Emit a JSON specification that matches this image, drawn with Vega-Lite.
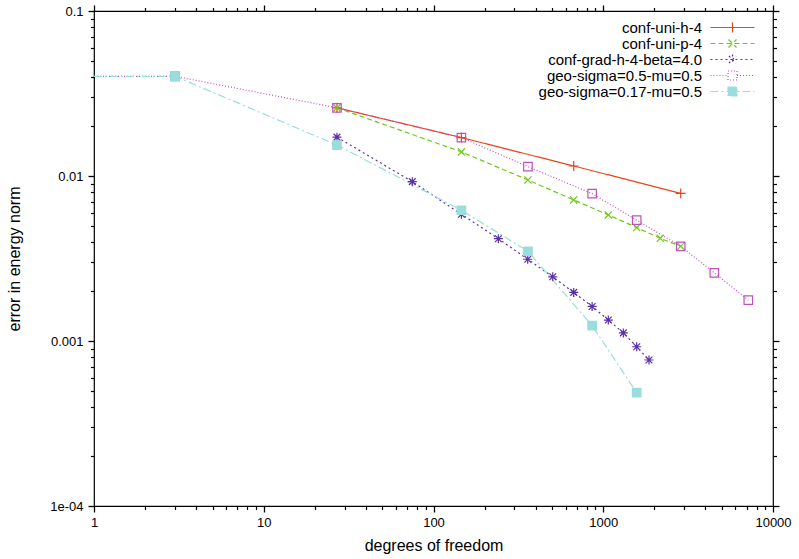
{
  "$schema": "https://vega.github.io/schema/vega-lite/v6.json",
  "width": 679,
  "height": 495,
  "autosize": "none",
  "padding": {"left": 94, "top": 11, "right": 26, "bottom": 53},
  "background": "white",
  "config": {
    "view": {"stroke": "black", "strokeWidth": 1.2},
    "font": "Liberation Sans",
    "legend": {"rowPadding": 0},
    "axis": {
      "domain": false,
      "labelColor": "black", "titleColor": "black", "grid": false,
      "labelFontSize": 13, "titleFontSize": 16, "titleFontWeight": "normal",
      "labelFont": "Liberation Sans", "titleFont": "Liberation Sans", "labelFlush": false
    }
  },
  "data": {"values": [
    {"series": "conf-uni-h-4", "dof": 27, "err": 0.0259},
    {"series": "conf-uni-h-4", "dof": 146, "err": 0.0171},
    {"series": "conf-uni-h-4", "dof": 670, "err": 0.0115},
    {"series": "conf-uni-h-4", "dof": 2860, "err": 0.00785},
    {"series": "conf-uni-p-4", "dof": 27, "err": 0.0259},
    {"series": "conf-uni-p-4", "dof": 146, "err": 0.0140},
    {"series": "conf-uni-p-4", "dof": 360, "err": 0.00946},
    {"series": "conf-uni-p-4", "dof": 670, "err": 0.00716},
    {"series": "conf-uni-p-4", "dof": 1071, "err": 0.00581},
    {"series": "conf-uni-p-4", "dof": 1574, "err": 0.00487},
    {"series": "conf-uni-p-4", "dof": 2168, "err": 0.00419},
    {"series": "conf-uni-p-4", "dof": 2860, "err": 0.00375},
    {"series": "conf-grad-h-4-beta=4.0", "dof": 27, "err": 0.0172},
    {"series": "conf-grad-h-4-beta=4.0", "dof": 75, "err": 0.00924},
    {"series": "conf-grad-h-4-beta=4.0", "dof": 146, "err": 0.00586},
    {"series": "conf-grad-h-4-beta=4.0", "dof": 241, "err": 0.00417},
    {"series": "conf-grad-h-4-beta=4.0", "dof": 359, "err": 0.00313},
    {"series": "conf-grad-h-4-beta=4.0", "dof": 504, "err": 0.00245},
    {"series": "conf-grad-h-4-beta=4.0", "dof": 670, "err": 0.00197},
    {"series": "conf-grad-h-4-beta=4.0", "dof": 860, "err": 0.00162},
    {"series": "conf-grad-h-4-beta=4.0", "dof": 1071, "err": 0.00134},
    {"series": "conf-grad-h-4-beta=4.0", "dof": 1313, "err": 0.00112},
    {"series": "conf-grad-h-4-beta=4.0", "dof": 1574, "err": 0.000923},
    {"series": "conf-grad-h-4-beta=4.0", "dof": 1860, "err": 0.000767},
    {"series": "geo-sigma=0.5-mu=0.5", "dof": 1, "err": 0.0402},
    {"series": "geo-sigma=0.5-mu=0.5", "dof": 3, "err": 0.0402},
    {"series": "geo-sigma=0.5-mu=0.5", "dof": 27, "err": 0.0259},
    {"series": "geo-sigma=0.5-mu=0.5", "dof": 146, "err": 0.0171},
    {"series": "geo-sigma=0.5-mu=0.5", "dof": 360, "err": 0.0114},
    {"series": "geo-sigma=0.5-mu=0.5", "dof": 860, "err": 0.00782},
    {"series": "geo-sigma=0.5-mu=0.5", "dof": 1574, "err": 0.0054},
    {"series": "geo-sigma=0.5-mu=0.5", "dof": 2860, "err": 0.00375},
    {"series": "geo-sigma=0.5-mu=0.5", "dof": 4511, "err": 0.00259},
    {"series": "geo-sigma=0.5-mu=0.5", "dof": 7153, "err": 0.00177},
    {"series": "geo-sigma=0.17-mu=0.5", "dof": 1, "err": 0.0402},
    {"series": "geo-sigma=0.17-mu=0.5", "dof": 3, "err": 0.0402},
    {"series": "geo-sigma=0.17-mu=0.5", "dof": 27, "err": 0.0154},
    {"series": "geo-sigma=0.17-mu=0.5", "dof": 146, "err": 0.0062},
    {"series": "geo-sigma=0.17-mu=0.5", "dof": 360, "err": 0.0035},
    {"series": "geo-sigma=0.17-mu=0.5", "dof": 860, "err": 0.00124},
    {"series": "geo-sigma=0.17-mu=0.5", "dof": 1574, "err": 0.000486}
  ]},
  "resolve": {"scale": {"x": "independent", "y": "independent"}, "axis": {"x": "independent", "y": "independent"}},
  "layer": [
    {
      "mark": {"type": "line", "strokeWidth": 1.2, "clip": true},
      "encoding": {
        "x": {"field": "dof", "type": "quantitative",
          "scale": {"type": "log", "domain": [1, 10000], "nice": false},
          "axis": {"orient": "bottom", "values": [1, 10, 100, 1000, 10000], "format": "d",
            "ticks": false, "tickSize": 0, "labelPadding": 10, "title": "degrees of freedom", "titlePadding": 8}},
        "y": {"field": "err", "type": "quantitative",
          "scale": {"type": "log", "domain": [0.0001, 0.1], "nice": false},
          "axis": {"orient": "left", "values": [0.1, 0.01, 0.001, 0.0001],
            "labelExpr": "datum.value < 0.0005 ? '1e-04' : datum.value < 0.005 ? '0.001' : datum.value < 0.05 ? '0.01' : '0.1'",
            "ticks": false, "tickSize": 0, "labelPadding": 11, "title": "error in energy norm", "titlePadding": 27}},
        "color": {"field": "series", "type": "nominal",
          "scale": {"domain": ["conf-uni-h-4", "conf-uni-p-4", "conf-grad-h-4-beta=4.0", "geo-sigma=0.5-mu=0.5", "geo-sigma=0.17-mu=0.5"],
            "range": ["#e8441c", "#70c81a", "#5a30a8", "#c050c0", "#99dddd"]},
          "legend": {"orient": "none", "legendX": 631, "legendY": 9, "title": null, "padding": 0,
            "labelAlign": "right", "labelOffset": -38, "labelFontSize": 15, "labelFont": "Liberation Sans",
            "labelColor": "black", "labelLimit": 400, "symbolSize": 144, "rowPadding": 0, "symbolStrokeWidth": 1.2,
            "encode": {
              "symbols": {"update": {
              "shape": {"signal": "datum.value == 'conf-uni-h-4' ? 'M-3.67,0H3.67M0,-0.83V0.83' : datum.value == 'conf-uni-p-4' ? 'M-3.67,0H3.67M-0.67,-0.67L0.67,0.67M-0.67,0.67L0.67,-0.67' : datum.value == 'conf-grad-h-4-beta=4.0' ? 'M-3.67,0H3.67M0,-0.83V0.83M-0.6,-0.6L0.6,0.6M-0.6,0.6L0.6,-0.6' : datum.value == 'geo-sigma=0.5-mu=0.5' ? 'M-3.67,0H-0.75M0.75,0H3.67M-0.75,-0.75H0.75V0.75H-0.75Z' : 'M-3.67,0H3.67M-0.75,-0.75H0.75V0.75H-0.75Z'"},
              "strokeDash": {"signal": "datum.value == 'conf-uni-h-4' ? [] : datum.value == 'conf-uni-p-4' ? [5,3] : datum.value == 'conf-grad-h-4-beta=4.0' ? [2,3] : datum.value == 'geo-sigma=0.5-mu=0.5' ? [1,2] : [8,3,2,3]"},
              "fill": {"signal": "datum.value == 'geo-sigma=0.17-mu=0.5' ? '#99dddd' : 'transparent'"},
              "stroke": {"signal": "scale('color', datum.value)"},
              "opacity": {"value": 1}
            }}}}},
        "strokeDash": {"field": "series", "type": "nominal", "legend": null,
          "scale": {"domain": ["conf-uni-h-4", "conf-uni-p-4", "conf-grad-h-4-beta=4.0", "geo-sigma=0.5-mu=0.5", "geo-sigma=0.17-mu=0.5"],
            "range": [[1, 0], [5, 3], [2, 3], [1, 2], [8, 3, 2, 3]]}}
      }
    },
    {
      "transform": [{"filter": "datum.series == 'conf-uni-h-4'"}],
      "mark": {"type": "point", "filled": false, "strokeWidth": 1.2, "size": 81, "opacity": 1, "shape": "M-1.1,0H1.1M0,-1.1V1.1"},
      "encoding": {
        "x": {"field": "dof", "type": "quantitative", "scale": {"type": "log", "domain": [1, 10000], "nice": false}, "axis": null},
        "y": {"field": "err", "type": "quantitative", "scale": {"type": "log", "domain": [0.0001, 0.1], "nice": false}, "axis": null},
        "color": {"field": "series", "type": "nominal", "legend": null}
      }
    },
    {
      "transform": [{"filter": "datum.series == 'conf-uni-p-4'"}],
      "mark": {"type": "point", "filled": false, "strokeWidth": 1.2, "size": 81, "opacity": 1, "shape": "M-0.8,-0.8L0.8,0.8M-0.8,0.8L0.8,-0.8"},
      "encoding": {
        "x": {"field": "dof", "type": "quantitative", "scale": {"type": "log", "domain": [1, 10000], "nice": false}, "axis": null},
        "y": {"field": "err", "type": "quantitative", "scale": {"type": "log", "domain": [0.0001, 0.1], "nice": false}, "axis": null},
        "color": {"field": "series", "type": "nominal", "legend": null}
      }
    },
    {
      "transform": [{"filter": "datum.series == 'conf-grad-h-4-beta=4.0'"}],
      "mark": {"type": "point", "filled": false, "strokeWidth": 1.2, "size": 81, "opacity": 1, "shape": "M-1,0H1M0,-1V1M-0.75,-0.75L0.75,0.75M-0.75,0.75L0.75,-0.75"},
      "encoding": {
        "x": {"field": "dof", "type": "quantitative", "scale": {"type": "log", "domain": [1, 10000], "nice": false}, "axis": null},
        "y": {"field": "err", "type": "quantitative", "scale": {"type": "log", "domain": [0.0001, 0.1], "nice": false}, "axis": null},
        "color": {"field": "series", "type": "nominal", "legend": null}
      }
    },
    {
      "transform": [{"filter": "datum.dof > 1 && (datum.series == 'geo-sigma=0.5-mu=0.5' || datum.series == 'geo-sigma=0.17-mu=0.5')"}],
      "mark": {"type": "point", "filled": false, "strokeWidth": 1.2, "size": 72, "opacity": 1, "shape": "square"},
      "encoding": {
        "x": {"field": "dof", "type": "quantitative", "scale": {"type": "log", "domain": [1, 10000], "nice": false}, "axis": null},
        "y": {"field": "err", "type": "quantitative", "scale": {"type": "log", "domain": [0.0001, 0.1], "nice": false}, "axis": null},
        "color": {"field": "series", "type": "nominal", "legend": null},
        "fill": {"field": "series", "type": "nominal", "legend": null,
          "scale": {"domain": ["conf-uni-h-4", "conf-uni-p-4", "conf-grad-h-4-beta=4.0", "geo-sigma=0.5-mu=0.5", "geo-sigma=0.17-mu=0.5"],
            "range": ["transparent", "transparent", "transparent", "transparent", "#99dddd"]}}
      }
    },
    {
      "mark": {"type": "point", "opacity": 0},
      "encoding": {
        "x": {"field": "dof", "type": "quantitative",
          "scale": {"type": "log", "domain": [1, 10000], "nice": false},
          "axis": {"orient": "top", "values": [1, 10, 100, 1000, 10000], "labels": false, "ticks": true, "tickSize": 6, "tickColor": "black", "tickWidth": 1.3, "title": null}},
        "y": {"field": "err", "type": "quantitative",
          "scale": {"type": "log", "domain": [0.0001, 0.1], "nice": false},
          "axis": {"orient": "right", "values": [0.1, 0.01, 0.001, 0.0001], "labels": false, "ticks": true, "tickSize": 6, "tickColor": "black", "tickWidth": 1.3, "title": null}}
      }
    },
    {
      "mark": {"type": "point", "opacity": 0},
      "encoding": {
        "x": {"field": "dof", "type": "quantitative",
          "scale": {"type": "log", "domain": [1, 10000], "nice": false},
          "axis": {"orient": "bottom", "values": [1, 10, 100, 1000, 10000], "labels": false, "ticks": true, "tickSize": 6, "tickColor": "black", "tickWidth": 1.3, "title": null}},
        "y": {"field": "err", "type": "quantitative",
          "scale": {"type": "log", "domain": [0.0001, 0.1], "nice": false},
          "axis": {"orient": "left", "values": [0.1, 0.01, 0.001, 0.0001], "labels": false, "ticks": true, "tickSize": 6, "tickColor": "black", "tickWidth": 1.3, "title": null}}
      }
    },
    {
      "mark": {"type": "point", "opacity": 0},
      "encoding": {
        "x": {"field": "dof", "type": "quantitative",
          "scale": {"type": "log", "domain": [1, 10000], "nice": false},
          "axis": {"orient": "bottom", "values": [2, 3, 4, 5, 6, 7, 8, 9, 20, 30, 40, 50, 60, 70, 80, 90, 200, 300, 400, 500, 600, 700, 800, 900, 2000, 3000, 4000, 5000, 6000, 7000, 8000, 9000], "labels": false, "ticks": true, "tickSize": 3.5, "tickColor": "black", "tickWidth": 1.2, "title": null}},
        "y": {"field": "err", "type": "quantitative",
          "scale": {"type": "log", "domain": [0.0001, 0.1], "nice": false},
          "axis": {"orient": "left", "values": [0.0002, 0.0003, 0.0004, 0.0005, 0.0006, 0.0007, 0.0008, 0.0009, 0.002, 0.003, 0.004, 0.005, 0.006, 0.007, 0.008, 0.009, 0.02, 0.03, 0.04, 0.05, 0.06, 0.07, 0.08, 0.09], "labels": false, "ticks": true, "tickSize": 3.5, "tickColor": "black", "tickWidth": 1.2, "title": null}}
      }
    },
    {
      "mark": {"type": "point", "opacity": 0},
      "encoding": {
        "x": {"field": "dof", "type": "quantitative",
          "scale": {"type": "log", "domain": [1, 10000], "nice": false},
          "axis": {"orient": "top", "values": [2, 3, 4, 5, 6, 7, 8, 9, 20, 30, 40, 50, 60, 70, 80, 90, 200, 300, 400, 500, 600, 700, 800, 900, 2000, 3000, 4000, 5000, 6000, 7000, 8000, 9000], "labels": false, "ticks": true, "tickSize": 3.5, "tickColor": "black", "tickWidth": 1.2, "title": null}},
        "y": {"field": "err", "type": "quantitative",
          "scale": {"type": "log", "domain": [0.0001, 0.1], "nice": false},
          "axis": {"orient": "right", "values": [0.0002, 0.0003, 0.0004, 0.0005, 0.0006, 0.0007, 0.0008, 0.0009, 0.002, 0.003, 0.004, 0.005, 0.006, 0.007, 0.008, 0.009, 0.02, 0.03, 0.04, 0.05, 0.06, 0.07, 0.08, 0.09], "labels": false, "ticks": true, "tickSize": 3.5, "tickColor": "black", "tickWidth": 1.2, "title": null}}
      }
    }
  ]
}
